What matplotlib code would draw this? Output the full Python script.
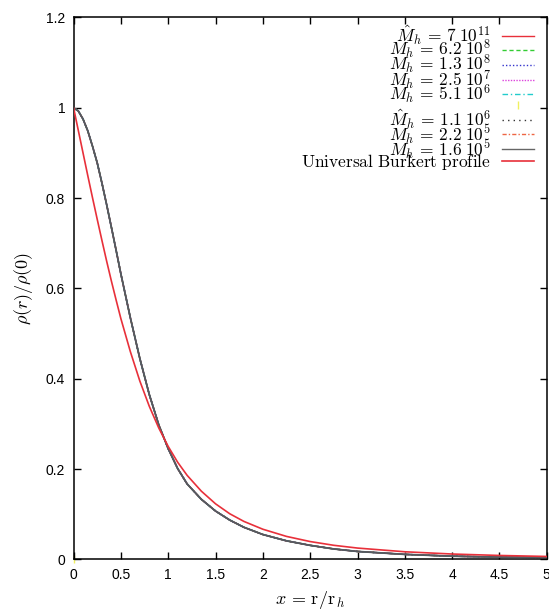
import matplotlib
matplotlib.use("Agg")
import matplotlib.pyplot as plt

# ---- data ----
x_grid = [0, 0.05, 0.1, 0.15, 0.2, 0.25, 0.3, 0.35, 0.4, 0.45, 0.5, 0.6, 0.7,
          0.8, 0.9, 1.0, 1.1, 1.2, 1.35, 1.5, 1.65, 1.8, 2.0, 2.25, 2.5, 2.75,
          3.0, 3.5, 4.0, 4.5, 5.0]
galaxy_profile = [1.0, 0.993, 0.975, 0.949, 0.915, 0.878, 0.833, 0.785, 0.735,
                  0.684, 0.632, 0.535, 0.445, 0.365, 0.298, 0.245, 0.201,
                  0.167, 0.133, 0.107, 0.087, 0.071, 0.055, 0.041, 0.031,
                  0.023, 0.0175, 0.011, 0.007, 0.005, 0.004]
burkert_profile = [1.0, 0.950, 0.900, 0.850, 0.801, 0.753, 0.706, 0.660, 0.616,
                   0.574, 0.533, 0.460, 0.395, 0.339, 0.291, 0.250, 0.215,
                   0.186, 0.151, 0.123, 0.101, 0.084, 0.0667, 0.0508, 0.0394,
                   0.0311, 0.025, 0.0168, 0.0118, 0.0086, 0.0064]
yellow_x = [0.0]
yellow_y = [0.0]

series_labels = [r"$\hat{M}_h\,=\,7\;10^{11}$",
                 r"$M_h\,=\,6.2\;10^{8}$",
                 r"$M_h\,=\,1.3\;10^{8}$",
                 r"$M_h\,=\,2.5\;10^{7}$",
                 r"$M_h\,=\,5.1\;10^{6}$",
                 " ",
                 r"$\hat{M}_h\,=\,1.1\;10^{6}$",
                 r"$M_h\,=\,2.2\;10^{5}$",
                 r"$M_h\,=\,1.6\;10^{5}$"]
burkert_label = r"$\mathrm{Universal\ Burkert\ profile}$"
x_ticks = [0, 0.5, 1, 1.5, 2, 2.5, 3, 3.5, 4, 4.5, 5]
x_ticklabels = ["0", "0.5", "1", "1.5", "2", "2.5", "3", "3.5", "4", "4.5", "5"]
y_ticks = [0, 0.2, 0.4, 0.6, 0.8, 1.0, 1.2]
y_ticklabels = ["0", "0.2", "0.4", "0.6", "0.8", "1", "1.2"]

# ---- styles ----
styles = [dict(color="#e8303a", ls="-"),
          dict(color="#33cc33", ls=(0, (3, 2))),
          dict(color="#3333cc", ls=(0, (1, 1.5))),
          dict(color="#dd44dd", ls=(0, (1, 1))),
          dict(color="#22cccc", ls=(0, (4, 2, 1, 2))),
          None,
          dict(color="#333333", ls=(0, (1, 3))),
          dict(color="#ee6644", ls=(0, (3, 1.5, 1, 1.5))),
          dict(color="#666666", ls="-")]

plt.rcParams["mathtext.fontset"] = "cm"
tick_font = ["Liberation Sans Narrow", "Liberation Sans", "DejaVu Sans"]

fig = plt.figure(figsize=(5.49, 6.14), dpi=100)
ax = fig.add_axes([0.134, 0.089, 0.862, 0.8825])

handles = []
for lab, st in zip(series_labels, styles):
    if st is None:
        h, = ax.plot(yellow_x, yellow_y, ls="none", marker="|", color="#f0f060",
                     markersize=6, label=lab, clip_on=False, zorder=1)
    else:
        h, = ax.plot(x_grid, galaxy_profile, lw=1.0, label=lab, zorder=2, **st)
    handles.append(h)
# visible overlapped curve (dark gray)
ax.plot(x_grid, galaxy_profile, color="#555a60", lw=1.3, zorder=3)
hb, = ax.plot(x_grid, burkert_profile, color="#e8303a", lw=1.2,
              label=burkert_label, zorder=4)
handles.append(hb)

ax.set_xlim(0, 5)
ax.set_ylim(0, 1.2)
ax.set_xticks(x_ticks)
ax.set_xticklabels(x_ticklabels, family=tick_font, fontsize=10)
ax.set_yticks(y_ticks)
ax.set_yticklabels(y_ticklabels, family=tick_font, fontsize=10)
ax.tick_params(direction="in", length=5, width=1, top=True, right=True, pad=6)
for sp in ax.spines.values():
    sp.set_linewidth(1.1)

ax.set_xlabel(r"$x\,=\,\mathrm{r}/\mathrm{r}_{\,h}$", fontsize=13, labelpad=5)
ax.set_ylabel(r"$\rho(r)/\rho(0)$", fontsize=13, labelpad=8)

leg = ax.legend(handles=handles, loc="upper right", frameon=False,
                markerfirst=False, fontsize=12.5, labelspacing=-0.48,
                handlelength=1.9, handletextpad=0.6, borderaxespad=0.0,
                borderpad=0.3, bbox_to_anchor=(0.985, 1.0))
for t in leg.get_texts():
    t.set_ha("right")

fig.savefig("out.png", dpi=100)
